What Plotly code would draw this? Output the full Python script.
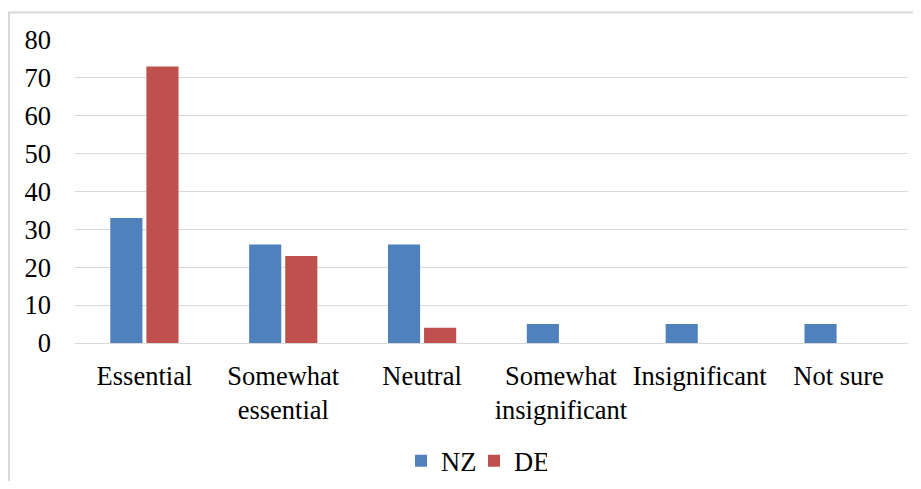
import plotly.graph_objects as go

categories = ["Essential", "Somewhat<br>essential", "Neutral", "Somewhat<br>insignificant", "Insignificant", "Not sure"]
nz = [33, 26, 26, 5, 5, 5]
de = [73, 23, 4, 0, 0, 0]

FONT = "Liberation Serif, Times New Roman, serif"
FS = 26.5

fig = go.Figure()
fig.add_trace(go.Bar(name="NZ", x=categories, y=nz, marker=dict(color="#4f81bd", line=dict(width=0))))
fig.add_trace(go.Bar(name="DE", x=categories, y=de, marker=dict(color="#c0504d", line=dict(width=0))))

# page body has an 8px margin, so figure coordinates = page coordinates - 8
W, H = 905, 473
L, R, T, B = 67, 5, 32, 138
pw = W - L - R
ph = H - T - B

fig.update_layout(
    width=W, height=H,
    margin=dict(l=L, r=R, t=T, b=B, pad=0, autoexpand=False),
    paper_bgcolor="white", plot_bgcolor="white",
    barmode="group", bargap=0.48, bargroupgap=0.11,
    font=dict(family=FONT, size=FS, color="black"),
    showlegend=True,
    legend=dict(orientation="h", xref="container", yref="container",
                x=393 / W, xanchor="left", y=(H - 453) / H, yanchor="middle",
                font=dict(family=FONT, size=FS), entrywidth=28, entrywidthmode="pixels",
                traceorder="normal"),
    xaxis=dict(showgrid=False, showline=False, ticks="", tickfont=dict(size=FS),
               ticklabelstandoff=14, automargin=False),
    yaxis=dict(range=[0, 80], dtick=10, showgrid=True, gridcolor="#d9d9d9", gridwidth=1.2,
               zeroline=True, zerolinecolor="#d9d9d9", zerolinewidth=1.2,
               showline=False, ticks="", ticklabelstandoff=23, tickfont=dict(size=FS), automargin=False),
)

fig.add_shape(type="rect", xref="paper", yref="paper",
              x0=(1 - L) / pw, x1=(W + 20 - L) / pw,
              y0=(H - B - (H + 20)) / ph, y1=(H - B - 4.5) / ph,
              line=dict(color="#d9d9d9", width=2), fillcolor="rgba(0,0,0,0)", layer="below")

fig.write_html("out.html")
